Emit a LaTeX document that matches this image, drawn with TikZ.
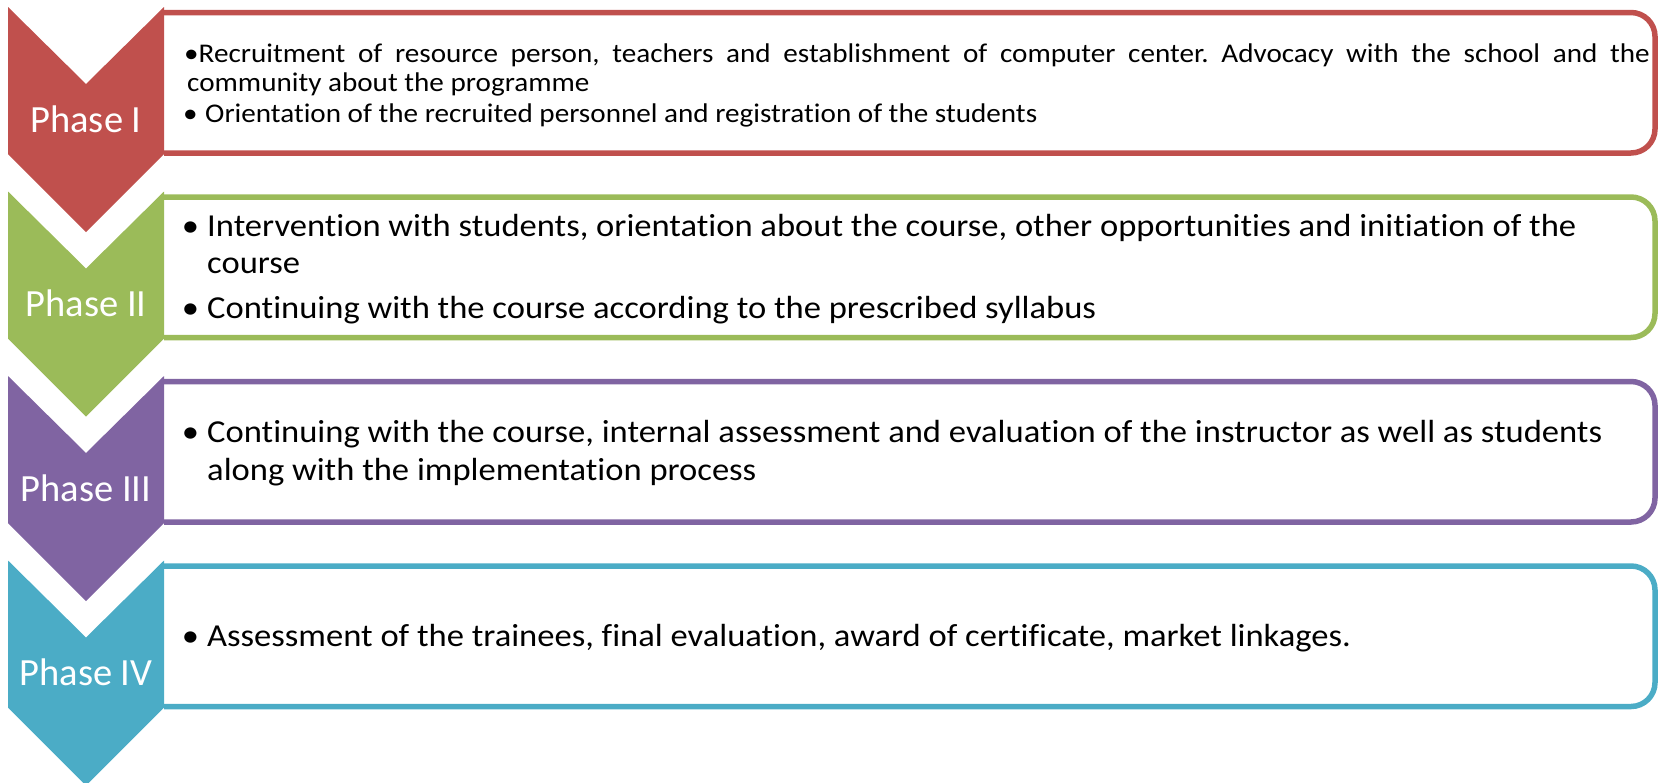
\documentclass[tikz,border=0pt]{standalone}
\usepackage{fontspec}
\setmainfont{Carlito}[Ligatures={NoCommon}]
\usepackage{graphicx}
\frenchspacing
\definecolor{cRed}{HTML}{C0504D}
\definecolor{cGreen}{HTML}{9BBB59}
\definecolor{cPurple}{HTML}{8064A2}
\definecolor{cAqua}{HTML}{4BACC6}
\newcommand{\hx}[1]{\scalebox{1.08}[1]{#1}}
\newcommand{\bul}[1]{\llap{\makebox[#1][l]{•}}}
\tikzset{
  phaseframe/.style={draw=#1, line width=5.5pt, rounded corners=24pt},
  chev/.style={fill=#1, draw=none},
  phaselabel/.style={text=white, inner sep=0pt, anchor=base, font=\fontsize{38.5}{46}\selectfont},
  bodytext/.style={text=black, inner sep=0pt, anchor=base west, font=\fontsize{32}{38}\selectfont},
  smalltext/.style={text=black, inner sep=0pt, anchor=base west, font=\fontsize{27}{33}\selectfont},
}
\begin{document}
\begin{tikzpicture}[x=1pt, y=-1pt]
\useasboundingbox (0,0) rectangle (1661,782);
% phase frames and chevrons
\foreach \i/\c in {0/cRed, 1/cGreen, 2/cPurple, 3/cAqua} {
  \pgfmathsetmacro{\yo}{7+184.5*\i}
  \draw[phaseframe=\c] (164,\yo+5.5) -- (1655,\yo+5.5) -- (1655,\yo+146) -- (164,\yo+146);
  \fill[chev=\c] (8,\yo) -- (86,\yo+77) -- (164,\yo) -- (164,\yo+147)
     -- (86,\yo+225) -- (8,\yo+147) -- cycle;
}
% phase labels
\node[phaselabel] (lab1) at (86,132) {Phase I};
\node[phaselabel] (lab2) at (86,316.5) {Phase II};
\node[phaselabel] (lab3) at (86,501) {Phase III};
\node[phaselabel] (lab4) at (86,685.5) {Phase IV};
% Phase I text
\node[smalltext] (t1a) at (184,62) {\hx{\makebox[1357pt][s]{•Recruitment of resource person, teachers and establishment of computer center. Advocacy with the school and the}}};
\node[smalltext] (t1b) at (187,91) {\hx{community about the programme}};
\node[smalltext] (t1c) at (205,122) {\hx{\bul{20.5pt}Orientation of the recruited personnel and registration of the students}};
% Phase II text
\node[bodytext] (t2a) at (207,236) {\hx{\bul{23.5pt}Intervention with students, orientation about the course, other opportunities and initiation of the}};
\node[bodytext] (t2b) at (207,273) {\hx{course}};
\node[bodytext] (t2c) at (207,318) {\hx{\bul{23.5pt}Continuing with the course according to the prescribed syllabus}};
% Phase III text
\node[bodytext] (t3a) at (207,442) {\hx{\bul{23.5pt}Continuing with the course, internal assessment and evaluation of the instructor as well as students}};
\node[bodytext] (t3b) at (207,480) {\hx{along with the implementation process}};
% Phase IV text
\node[bodytext] (t4a) at (207,646) {\hx{\bul{23.5pt}Assessment of the trainees, final evaluation, award of certificate, market linkages.}};
\end{tikzpicture}
\end{document}
